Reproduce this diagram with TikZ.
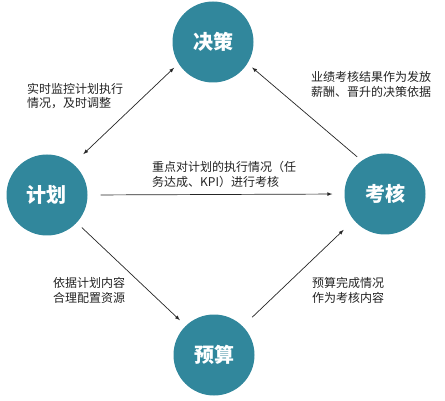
\documentclass[tikz,border=0pt]{standalone}
\usepackage{fontspec}
\newfontfamily\cjk{Noto Sans CJK SC}
\usetikzlibrary{shapes}
\usetikzlibrary{arrows}
\definecolor{tealc}{RGB}{49,135,156}
\definecolor{textc}{RGB}{34,34,34}
\begin{document}
\begin{tikzpicture}[x=1pt,y=-1pt]
					\tikzstyle{stage}=[circle,fill=tealc,minimum size=81pt,inner sep=0pt,text=white,font=\cjk\bfseries\fontsize{20}{24}\selectfont]
					\tikzstyle{note}=[anchor=west,align=left,inner sep=0pt,text=textc,font=\cjk\fontsize{12}{14.5}\selectfont]
					\tikzstyle{link}=[line width=0.7pt,>=latex,draw=black!85]
					\useasboundingbox (0,0) rectangle (445,401);
					
					\node[stage] (juece) at (213,42) {决策};
					\node[stage] (jihua) at (47,195) {计划};
					\node[stage] (kaohe) at (385,194) {考核};
					\node[stage] (yusuan) at (214,355) {预算};
					
					\draw[link,<->,shorten <=14pt,shorten >=6pt] (jihua.50) -- (juece.212);
					\draw[link,->,shorten <=6pt,shorten >=6pt] (kaohe.125) -- (juece.328);
					\draw[link,->,shorten <=13pt,shorten >=12pt] (jihua.east) -- (kaohe.west);
					\draw[link,->,shorten <=7pt,shorten >=8pt] (jihua.317) -- (yusuan.134);
					\draw[link,->,shorten <=13pt,shorten >=14pt] (yusuan.45) -- (kaohe.220);
					
					\node[note] (n1) at (27,96) {实时监控计划执行\\情况，及时调整};
					\node[note] (n2) at (311,84.5) {业绩考核结果作为发放\\薪酬、晋升的决策依据};
					\node[note] (n3) at (152,174.5) {重点对计划的执行情况（任\\务达成、KPI）进行考核};
					\node[note] (n4) at (53,290.5) {依据计划内容\\合理配置资源};
					\node[note] (n5) at (312,290.5) {预算完成情况\\作为考核内容};
					
					\end{tikzpicture}
\end{document}
